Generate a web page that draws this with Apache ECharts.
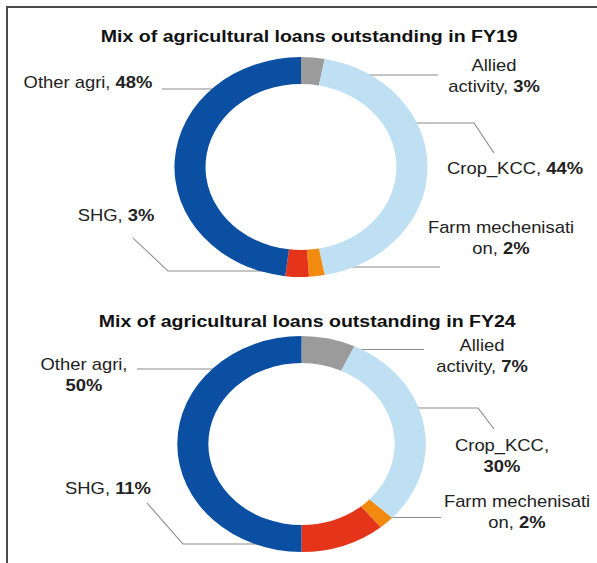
<!DOCTYPE html>
<html><head><meta charset="utf-8">
<script src="https://cdn.jsdelivr.net/npm/echarts@6/dist/echarts.min.js"></script>
<style>
html,body{margin:0;padding:0;background:#fff;overflow:hidden;width:597px;height:563px;}
#frame{position:absolute;left:6px;top:6px;width:591px;height:560px;border-left:2px solid #4a4a4a;border-top:2px solid #4a4a4a;box-sizing:border-box;}
#chart{position:absolute;left:0;top:0;width:519px;height:563px;transform:scaleX(1.1503);transform-origin:0 0;}
</style></head><body>
<div id="frame"></div>
<div id="chart"></div>
<script>
// ---- data ----
const categories = ['Allied activity', 'Crop_KCC', 'Farm mechenisation', 'SHG', 'Other agri'];
const fy19Values = [3, 44, 2, 3, 48];
const fy24Values = [7, 30, 2, 11, 50];
const titles = ['Mix of agricultural loans outstanding in FY19', 'Mix of agricultural loans outstanding in FY24'];
// label text as printed (line breaks as in the picture)
const fy19Labels = ['Allied\nactivity, ', 'Crop_KCC, ', 'Farm mechenisati\non, ', 'SHG, ', 'Other agri, '];
const fy24Labels = ['Allied\nactivity, ', 'Crop_KCC,\n', 'Farm mechenisati\non, ', 'SHG, ', 'Other agri,\n'];

// ---- styling / layout ----
const S = 1.1503; // horizontal stretch of the picture
const colors = ['#9b9b9b', '#bfdff3', '#f28a10', '#e4351b', '#0a4fa1'];
const FONT = '"Liberation Sans", Arial, sans-serif';
// label anchors and leader lines in picture pixels
const layouts = [
  [
    {x: 494, y: 76, line: [[438, 75], [320, 75]]},
    {x: 515, y: 168, line: [[494, 153], [474, 123], [396, 123]]},
    {x: 501, y: 238, line: [[440, 267], [312, 267]]},
    {x: 116, y: 215, line: [[133, 238], [168, 271], [303, 271]]},
    {x: 88, y: 82, line: [[162, 89], [228, 89]]}
  ],
  [
    {x: 482, y: 356, line: [[424, 349.5], [353, 349.5]]},
    {x: 502, y: 456, line: [[494, 429], [478, 408], [403, 408]]},
    {x: 517, y: 512, line: [[441, 517.5], [388, 517.5]]},
    {x: 108, y: 488, line: [[147, 503], [183, 544], [313, 544]]},
    {x: 84, y: 375, line: [[137, 369], [217, 369]]}
  ]
];

function fmt(labels, values) {
  return function (p) {
    const parts = labels[p.dataIndex].split('\n');
    const out = parts.map(t => t ? '{n|' + t + '}' : '');
    out[out.length - 1] += '{v|' + values[p.dataIndex] + '%}';
    return out.join('\n');
  };
}

function makeSeries(values, labels, center, radius, idx) {
  return {
    type: 'pie',
    center: center,
    radius: radius,
    startAngle: 90,
    clockwise: true,
    avoidLabelOverlap: false,
    silent: true,
    data: categories.map((c, i) => ({name: c, value: values[i], itemStyle: {color: colors[i]}})),
    label: {
      show: true,
      position: 'outside',
      formatter: fmt(labels, values),
      lineHeight: 21,
      rich: {
        n: {fontFamily: FONT, fontSize: 16, color: '#222', lineHeight: 21},
        v: {fontFamily: FONT, fontSize: 16, color: '#222', fontWeight: 'bold', lineHeight: 21}
      }
    },
    labelLine: {show: true, length: 10, length2: 10, smooth: false, lineStyle: {color: '#8c8c8c', width: 1}},
    labelLayout: function (params) {
      const L = layouts[idx][params.dataIndex];
      return {
        x: L.x / S, y: L.y, align: 'center', verticalAlign: 'middle',
        labelLinePoints: L.line.map(pt => [pt[0] / S, pt[1]])
      };
    },
    itemStyle: {borderWidth: 0}
  };
}

const chart = echarts.init(document.getElementById('chart'), null, {renderer: 'svg'});
chart.setOption({
  animation: false,
  backgroundColor: 'transparent',
  title: [
    {text: titles[0], left: 303.5 / S, top: 22, textAlign: 'center',
     textStyle: {fontFamily: FONT, fontSize: 17, fontWeight: 'bold', color: '#111'}},
    {text: titles[1], left: 301.5 / S, top: 307, textAlign: 'center',
     textStyle: {fontFamily: FONT, fontSize: 17, fontWeight: 'bold', color: '#111'}}
  ],
  series: [
    makeSeries(fy19Values, fy19Labels, [301 / S, 167], [83, 110], 0),
    makeSeries(fy24Values, fy24Labels, [301.5 / S, 444], [81, 108], 1)
  ]
});
</script>
</body></html>
